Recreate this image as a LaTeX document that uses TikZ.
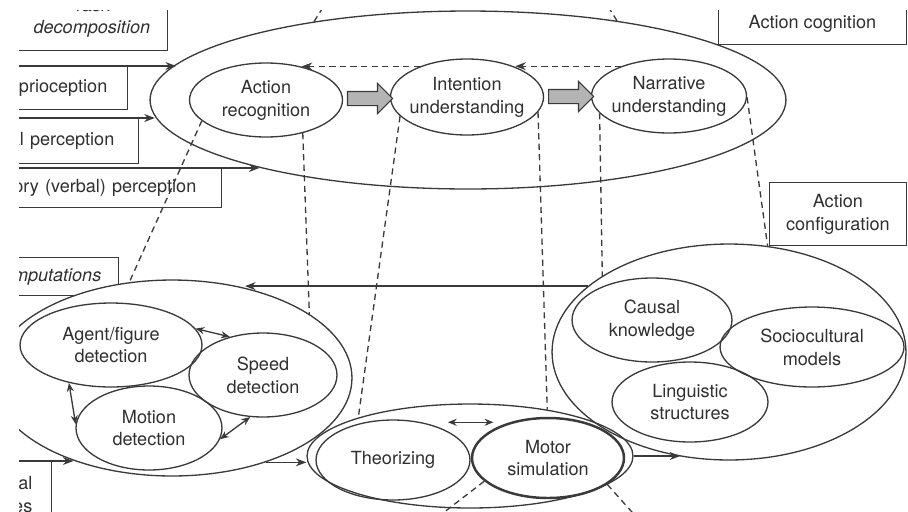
\documentclass[tikz,border=0pt]{standalone}
\usepackage{fontspec}
\setmainfont{TeX Gyre Heros}
\usetikzlibrary{arrows.meta,shapes.geometric,shapes.arrows,calc}
\definecolor{lineDraw}{HTML}{3A3A3A}
\definecolor{textDark}{HTML}{303030}
\definecolor{blockFill}{HTML}{B4B4B4}
\newcommand{\figfont}{\fontsize{10.3}{13}\selectfont}
\tikzset{
  font=\figfont,
  box/.style  ={draw=lineDraw, text=textDark, line width=0.75pt, inner sep=0pt, align=center},
  lbox/.style ={box, anchor=north east, text width=6cm, align=right, inner xsep=0.4cm},
  ell/.style  ={ellipse, draw=lineDraw, text=textDark, line width=0.75pt, inner sep=-0.4cm, align=center},
  shell/.style={ell, fill=white},
  blk/.style  ={single arrow, draw=lineDraw, fill=blockFill, line width=0.6pt, inner xsep=0pt, inner ysep=0.13cm,
                minimum height=0.9cm, single arrow head extend=0.16cm},
  arr/.style  ={-{Stealth[length=6pt,width=4.5pt]}, draw=lineDraw, line width=0.75pt},
  darr/.style ={arr, dash pattern=on 3.5pt off 2.5pt},
  dline/.style={draw=lineDraw, line width=0.75pt, dash pattern=on 3.5pt off 2.5pt},
  dbl/.style  ={{Stealth[length=5pt,width=4pt]}-{Stealth[length=5pt,width=4pt]}, draw=lineDraw, line width=0.75pt},
}

\begin{document}
\begin{tikzpicture}[x=0.02cm, y=-0.02cm]
  \fill[white] (0,0) rectangle (908,511);
  \useasboundingbox (0,0) rectangle (908,511);
  \clip (19,10) rectangle (908,511);

  % input boxes, cut by the page edge
  \node[box, font=\figfont\itshape, minimum width=3.02cm, minimum height=1.3cm, anchor=south east] (task) at (168,51) {Task\\decomposition};
  \node[lbox, minimum height=0.86cm] (prop) at (128,66) {Proprioception};
  \node[lbox, inner xsep=0.48cm, minimum height=0.9cm] (vis) at (139,118) {Visual perception};
  \node[lbox, inner xsep=0.5cm, minimum height=0.78cm] (aud) at (222,168) {Auditory (verbal) perception};
  \node[lbox, font=\figfont\itshape, inner xsep=0.34cm, minimum height=0.76cm] (pcomp) at (119,257) {Perceptual computations};
  \node[lbox, inner xsep=0.38cm, minimum height=1.3cm] (feat) at (52,461) {Perceptual\\features};
  \node[box, minimum width=3.76cm, minimum height=0.8cm, anchor=south east] (actcog) at (907,45) {Action cognition};
  \node[box, minimum width=2.74cm, minimum height=1.26cm, anchor=north east] (actconf) at (907,182) {Action\\configuration};

  % action cognition
  \node[shell, minimum width=12.72cm, minimum height=3.56cm] (cog) at (468,100) {};
  \node[ell, minimum width=3.06cm, minimum height=1.48cm] (rec) at (266,100) {Action\\recognition};
  \node[ell, minimum width=3.06cm, minimum height=1.52cm] (int) at (467,97) {Intention\\understanding};
  \node[ell, minimum width=3.1cm, minimum height=1.48cm] (nar) at (669,96) {Narrative\\understanding};
  \node[blk] (b1) at ($(rec.east)!0.5!(int.west)$) {};
  \node[blk] (b2) at ($(int.east)!0.5!(nar.west)$) {};
  \draw[darr] (nar.148.8) -- (nar.148.8 -| int.32.4);
  \draw[darr] (int.147.6) -- (int.147.6 -| rec.43.6);

  % perceptual side
  \node[shell, minimum width=7.2cm, minimum height=3.92cm] (comp) at (172,378) {};
  \node[ell, minimum width=3.64cm, minimum height=1.68cm] (agent) at (111,345) {Agent/figure\\detection};
  \node[ell, minimum width=2.96cm, minimum height=1.68cm] (speed) at (263,375) {Speed\\detection};
  \node[ell, minimum width=2.92cm, minimum height=1.68cm] (motion) at (149,428) {Motion\\detection};
  \draw[dbl] (agent.11.2) -- (speed.131.7);
  \draw[dbl] (agent.222.9) -- (motion.177.6);
  \draw[dbl] (motion.-9.6) -- (speed.253.9);

  % configuration side
  \node[ell, minimum width=7.08cm, minimum height=4.32cm] (conf) at (729,352) {};
  \node[ell, minimum width=3.2cm, minimum height=1.68cm] (causal) at (652,320) {Causal\\knowledge};
  \node[ell, minimum width=3.68cm, minimum height=1.6cm] (socio) at (812,347) {Sociocultural\\models};
  \node[ell, minimum width=3.12cm, minimum height=1.6cm] (ling) at (690,402) {Linguistic\\structures};

  % simulation
  \node[ell, minimum width=6.52cm, minimum height=2.08cm] (sim) at (470,456) {};
  \node[ell, minimum width=3.08cm, minimum height=1.6cm] (theo) at (393,460) {Theorizing};
  \node[ell, line width=1.4pt, minimum width=3.04cm, minimum height=1.6cm] (motor) at (548,458) {Motor\\simulation};
  \draw[dbl] ([yshift=0.18cm]theo.north east) -- ([yshift=0.18cm]theo.north east -| motor.north west);

  % flows
  \draw[arr] (prop.north west) -- (prop.north west -| cog.173.4);
  \draw[arr] (vis.north west) -- (vis.north west -| cog.183.3);
  \draw[arr] (aud.north west) -- (aud.north west -| cog.198.3);
  \draw[arr] (conf.155.8) -- (conf.155.8 -| comp.51.65);
  \draw[arr] (feat.north west) -- (feat.north west -| comp.220.9);
  \draw[arr] (comp.-42.2) -- (comp.-42.2 -| sim.west);
  \draw[arr] (sim.east) -- (sim.east -| conf.245.3);

  % projection lines
  \coordinate (tl) at (331,-5);
  \coordinate (tr) at (601,-5);
  \coordinate (bl) at (434,520);
  \coordinate (br) at (639,520);
  \draw[dline] (cog.153.3) -- (tl);
  \draw[dline] (cog.28.1) -- (tr);
  \draw[dline] (rec.198) -- (comp.114.8);
  \draw[dline] (rec.318.3) -- (comp.25.7);
  \draw[dline] (int.196.7) -- (sim.161);
  \draw[dline] (int.-12.7) -- (sim.31);
  \draw[dline] (nar.194.4) -- (conf.149.8);
  \draw[dline] (nar.-1) -- (conf.70.4);
  \draw[dline] (motor.200.3) -- (bl);
  \draw[dline] (motor.-24.8) -- (br);
\end{tikzpicture}
\end{document}
